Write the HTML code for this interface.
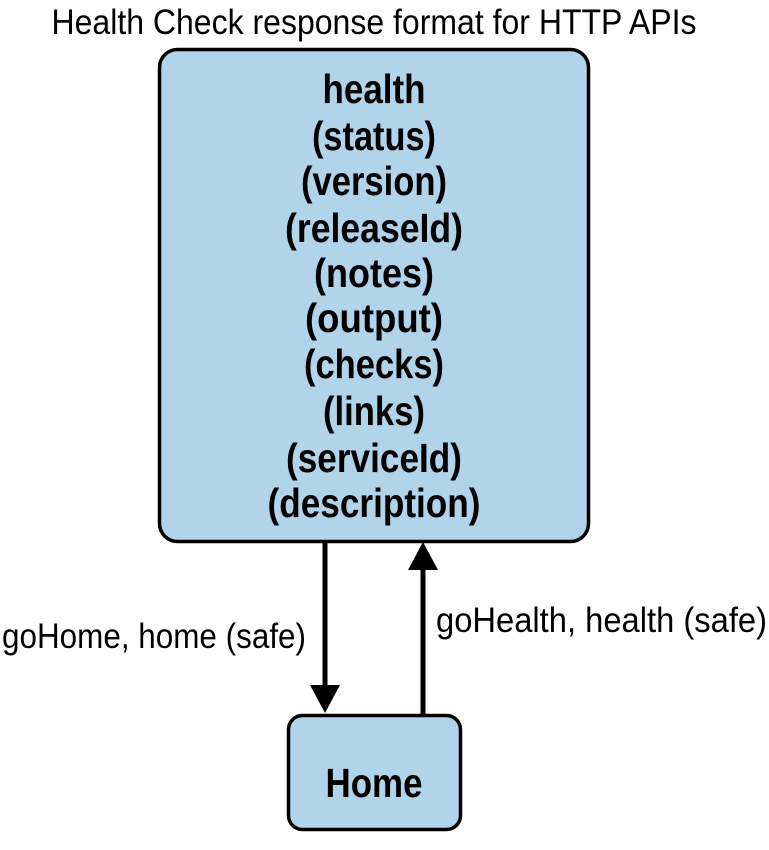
<!DOCTYPE html>
<html><head><meta charset="utf-8"><style>
html,body{margin:0;padding:0;background:#fff;}
svg{display:block;}
text{font-family:"Liberation Sans Narrow","Liberation Sans",sans-serif;fill:#000;}
</style></head><body>
<svg width="769" height="850" viewBox="0 0 769 850" xmlns="http://www.w3.org/2000/svg">
<text x="374" y="34" font-size="35" text-anchor="middle" textLength="645" lengthAdjust="spacingAndGlyphs">Health Check response format for HTTP APIs</text>
<rect x="159.5" y="49.5" width="429" height="492" rx="18" fill="#b1d4ea" stroke="#000" stroke-width="3.5"/>
<g font-size="41" text-anchor="middle" font-weight="bold">
<text x="374" y="103" textLength="103" lengthAdjust="spacingAndGlyphs">health</text>
<text x="374" y="150" textLength="124" lengthAdjust="spacingAndGlyphs">(status)</text>
<text x="374" y="195" textLength="146" lengthAdjust="spacingAndGlyphs">(version)</text>
<text x="374" y="242" textLength="178" lengthAdjust="spacingAndGlyphs">(releaseId)</text>
<text x="374" y="287" textLength="120" lengthAdjust="spacingAndGlyphs">(notes)</text>
<text x="374" y="332" textLength="138" lengthAdjust="spacingAndGlyphs">(output)</text>
<text x="374" y="378" textLength="140" lengthAdjust="spacingAndGlyphs">(checks)</text>
<text x="374" y="425" textLength="102" lengthAdjust="spacingAndGlyphs">(links)</text>
<text x="374" y="472" textLength="176" lengthAdjust="spacingAndGlyphs">(serviceId)</text>
<text x="374" y="517" textLength="213" lengthAdjust="spacingAndGlyphs">(description)</text>
</g>
<rect x="288.5" y="715.5" width="172" height="114" rx="14" fill="#b1d4ea" stroke="#000" stroke-width="3.5"/>
<text x="374" y="797" font-size="41" font-weight="bold" text-anchor="middle" textLength="97" lengthAdjust="spacingAndGlyphs">Home</text>
<line x1="325" y1="542" x2="325" y2="690" stroke="#000" stroke-width="5"/>
<polygon points="310,685 340,685 325,713" fill="#000"/>
<line x1="423" y1="566" x2="423" y2="715" stroke="#000" stroke-width="5"/>
<polygon points="408,570 438,570 423,542" fill="#000"/>
<text x="2" y="648" font-size="35" textLength="304" lengthAdjust="spacingAndGlyphs">goHome, home (safe)</text>
<text x="436" y="632" font-size="35" textLength="331" lengthAdjust="spacingAndGlyphs">goHealth, health (safe)</text>
</svg>
</body></html>
